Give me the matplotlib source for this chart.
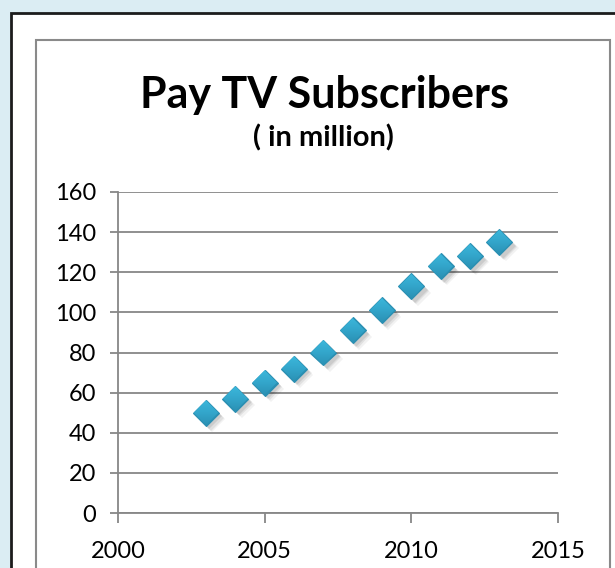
import matplotlib
matplotlib.use("Agg")
import numpy as np
import matplotlib.pyplot as plt
from matplotlib.patches import Rectangle
from matplotlib.markers import MarkerStyle
from matplotlib.transforms import Affine2D, IdentityTransform
from matplotlib.colors import LinearSegmentedColormap
import matplotlib.patheffects as pe

# Pay TV subscribers by year (millions)
years = [2003, 2004, 2005, 2006, 2007, 2008, 2009, 2010, 2011, 2012, 2013]
subscribers = [50, 57, 65, 72, 80, 91, 101, 113, 123, 128, 135]

x_ticks = [2000, 2005, 2010, 2015]
y_ticks = [0, 20, 40, 60, 80, 100, 120, 140, 160]

title = "Pay TV Subscribers"
subtitle = "( in million)"

W, H = 615, 568
fig = plt.figure(figsize=(W / 100, H / 100), dpi=100)
fig.patch.set_facecolor("#dbedf3")

font = "Lato"

# outer slide frame and inner chart frame
fig.add_artist(Rectangle((11 / W, -0.1), 1.2, (H - 13) / H + 0.1,
                         transform=fig.transFigure, facecolor="white",
                         edgecolor="#1c1c1c", linewidth=2.0, zorder=-3))
fig.add_artist(Rectangle((36 / W, -0.1), (610 - 36) / W, (H - 40) / H + 0.1,
                         transform=fig.transFigure, facecolor="white",
                         edgecolor="#8a8a8a", linewidth=1.5, zorder=-2))

ax = fig.add_axes([118 / W, (H - 513) / H, (558 - 118) / W, (513 - 192) / H])
ax.set_zorder(1)
ax.set_facecolor("none")

grid_c = "#878787"
for s in ["top", "right"]:
    ax.spines[s].set_visible(False)
for s in ["left", "bottom"]:
    ax.spines[s].set_color(grid_c)
    ax.spines[s].set_linewidth(1.3)
ax.yaxis.grid(True, color=grid_c, linewidth=1.3)
ax.set_axisbelow(True)

# markers: soft drop shadow + dark rim, then a vertical gradient fill
ms = 13.2
shadow = [pe.SimplePatchShadow(offset=(o, -o), shadow_rgbFace="#000000", alpha=a)
          for o, a in [(4.5, 0.05), (3.5, 0.07), (2.5, 0.09)]]
ax.plot(years, subscribers, linestyle="none", marker="D", markersize=ms,
        markerfacecolor="#2a8fb2", markeredgecolor="#2a8fb2",
        markeredgewidth=0.8,
        path_effects=shadow + [pe.Normal()], zorder=3, clip_on=False)

ax.set_xlim(2000, 2015)
ax.set_ylim(0, 160)
ax.set_xticks(x_ticks)
ax.set_yticks(y_ticks)

cmap = LinearSegmentedColormap.from_list("diamond", ["#3dbade", "#33a6cb", "#2a8eb1"])
grad = np.linspace(0, 1, 64).reshape(-1, 1)
m = MarkerStyle("D")
unit = m.get_path().transformed(m.get_transform())
px_size = (ms - 0.6) * fig.dpi / 72
for xv, yv in zip(years, subscribers):
    cx, cy = ax.transData.transform((xv, yv))
    clip = unit.transformed(Affine2D().scale(px_size).translate(cx, cy))
    im = ax.imshow(grad, extent=[xv - 0.5, xv + 0.5, yv - 7, yv + 7],
                   cmap=cmap, origin="upper", aspect="auto",
                   interpolation="bilinear", zorder=4)
    im.set_clip_path(clip, transform=IdentityTransform())

ax.set_xlim(2000, 2015)
ax.set_ylim(0, 160)

ax.tick_params(axis="both", colors=grid_c, width=1.3, labelcolor="black",
               labelsize=17, direction="out")
ax.tick_params(axis="y", length=6, pad=10)
ax.tick_params(axis="x", length=7, pad=13)
for lbl in ax.get_xticklabels() + ax.get_yticklabels():
    lbl.set_fontfamily(font)

fig.text(325 / W, 1 - 95 / H, title, ha="center", va="center",
         fontsize=31, fontweight="bold", family=font)
fig.text(323 / W, 1 - 138 / H, subtitle, ha="center", va="center",
         fontsize=21, fontweight="bold", family=font)

fig.savefig("out.png", dpi=100, facecolor=fig.get_facecolor())
